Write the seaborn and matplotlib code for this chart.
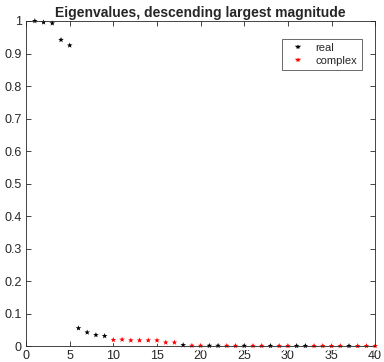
import matplotlib
matplotlib.use("Agg")
import matplotlib.pyplot as plt
import pandas as pd
import numpy as np
import seaborn as sns

# Eigenvalue magnitudes, indices 1..40
index = list(range(1, 41))
magnitude = [1.0, 0.996, 0.993, 0.942, 0.925, 0.055, 0.042, 0.034, 0.031, 0.019,
             0.020, 0.0175, 0.0175, 0.0175, 0.0175, 0.011, 0.011, 0.003, 0.0012, 0.001,
             0.001, 0.001, 0.0008, 0.0008, 0.0008, 0.0007, 0.0007, 0.0006, 0.0006, 0.0006,
             0.0005, 0.0005, 0.0005, 0.0005, 0.0004, 0.0004, 0.0004, 0.0003, 0.0003, 0.0003]
kind = ["real"] * 9 + ["complex"] * 8 + ["real"] + ["complex"] * 2 + ["real"] * 2 \
    + ["complex"] * 2 + ["real"] + ["complex"] * 2 + ["real"] + ["complex"] * 2 \
    + ["real"] * 2 + ["complex"] * 4 + ["real"] + ["complex"] * 3

df = pd.DataFrame({"index": index, "magnitude": magnitude, "kind": kind})

sns.set_style("white")
plt.rcParams['font.family'] = ['Liberation Sans', 'DejaVu Sans']

fig = plt.figure(figsize=(3.84, 3.62), dpi=100)
ax = fig.add_axes([0.068, 0.044, 0.909, 0.898])

sns.scatterplot(data=df, x="index", y="magnitude", hue="kind",
                hue_order=["real", "complex"],
                palette={"real": "black", "complex": "red"},
                marker="*", s=62, linewidth=1.1, clip_on=False, ax=ax)

ax.set_xlim(0, 40)
ax.set_ylim(0, 1)
ax.set_xticks(range(0, 41, 5))
ax.set_yticks(np.arange(0, 1.01, 0.1))
ax.set_yticklabels(["0", "0.1", "0.2", "0.3", "0.4", "0.5", "0.6", "0.7", "0.8", "0.9", "1"])
ax.set_xlabel("")
ax.set_ylabel("")
ax.tick_params(direction="in", length=3.5, width=0.6, labelsize=9,
               bottom=True, left=True, top=True, right=True,
               color="#262626", labelcolor="#262626", pad=3)
for sp in ax.spines.values():
    sp.set_visible(True)
    sp.set_linewidth(0.6)
    sp.set_color("#262626")

ax.set_title("Eigenvalues, descending largest magnitude", fontsize=10, fontweight="bold", pad=3)

leg = ax.legend(loc="upper right", bbox_to_anchor=(0.977, 0.963), fontsize=8,
                frameon=True, fancybox=False, edgecolor="#262626",
                borderpad=0.4, handletextpad=0.6, labelspacing=0.25)
leg.get_frame().set_linewidth(0.6)

fig.savefig("out.png", dpi=100)
